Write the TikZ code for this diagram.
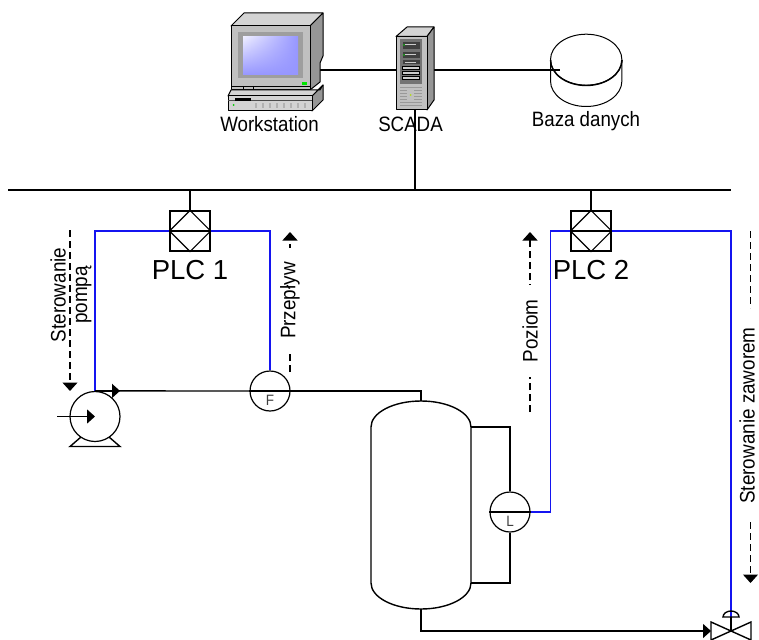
\documentclass[tikz,border=0pt]{standalone}
\usepackage{fontspec}
\setmainfont{Liberation Sans}
\newfontfamily\narrowfont[FakeStretch=0.9]{Liberation Sans}
\usetikzlibrary{calc,arrows.meta,shadings}

\definecolor{signalblue}{RGB}{20,20,240}
\definecolor{screenblue}{RGB}{150,150,255}
\definecolor{screenlight}{RGB}{238,238,255}
\definecolor{caselight}{RGB}{212,212,212}
\definecolor{casemid}{RGB}{192,192,192}
\definecolor{casedark}{RGB}{150,150,150}

\tikzset{
  pipe/.style={draw, line width=1.4pt},
  signal/.style={draw=signalblue, line width=1.5pt},
  icon/.style={draw=black, line width=1pt, line join=round},
  flowarrow/.style={line width=1.1pt, dash pattern=on 7pt off 4pt, -{Triangle[width=15pt,length=8.5pt]}},
  headtip/.style={-{Triangle[width=14pt,length=8pt]}},
  instrument/.style={circle, draw, fill=white, line width=1.2pt, minimum size=40pt, inner sep=0pt},
  plcbox/.style={rectangle, draw, fill=white, line width=1.2pt, minimum size=40pt, inner sep=0pt},
  plclabel/.style={font=\fontsize{27.5}{30}\selectfont, anchor=base},
  iconlabel/.style={font=\narrowfont\fontsize{20.8}{23}\selectfont, anchor=base},
  flowlabel/.style={font=\narrowfont\fontsize{21}{21.5}\selectfont, rotate=90, fill=white, inner xsep=14pt, inner ysep=0pt, align=center},
  tagletter/.style={font=\narrowfont\fontsize{15}{17}\selectfont, text=black!75}
}

\begin{document}
\begin{tikzpicture}[x=1pt,y=-1pt]

\useasboundingbox (0,0) rectangle (759,639);

% Define coordinates
\coordinate (busleft) at (8,190);
\coordinate (busright) at (731,190);
\coordinate (wsport) at (310,70);
\coordinate (scadaleft) at (396,70);
\coordinate (scadaright) at (430,70);
\coordinate (scadabottom) at (415,110);
\coordinate (dbport) at (560,70);
\coordinate (tanktop) at (421,401);
\coordinate (tankbottom) at (421,609);
\coordinate (tankupper) at (471,427);
\coordinate (tanklower) at (471,583);
\coordinate (valve) at (731,631);
\coordinate (actuator) at (731,617);
\coordinate (pumpin) at (57,416.5);

% PLC and instrument nodes
\node[plcbox] (plcone) at (190,231) {};
\node[plcbox] (plctwo) at (591,231) {};
\node[instrument] (flow) at (270,391) {};
\node[instrument] (level) at (510,512) {};
\node[circle, draw, line width=1.2pt, minimum size=50pt, inner sep=0pt] (pump) at (95,416.5) {};
\node[plclabel] (plconelabel) at (190,279) {PLC 1};
\node[plclabel] (plctwolabel) at (591,279) {PLC 2};
\node[tagletter] (flowtag) at (270,400.5) {F};
\node[tagletter] (leveltag) at (510,521) {L};

% Diamonds inside PLC boxes
\foreach \plc in {plcone,plctwo} {
  \draw[line width=1.2pt] (\plc.west) -- (\plc.north) -- (\plc.east) -- (\plc.south) -- cycle;
  \draw[line width=1.7pt] (\plc.west) -- (\plc.east);
}

% Bus and its drops
\draw[line width=1.8pt] (busleft) -- (busright);
\draw[pipe] (scadabottom) -- (scadabottom |- busleft);
\draw[pipe] (plcone.north) -- (plcone.north |- busleft);
\draw[pipe] (plctwo.north) -- (plctwo.north |- busleft);

% Links at the top
\draw[pipe] (wsport) -- (scadaleft);
\draw[pipe] (scadaright) -- (dbport);

% Signal lines
\draw[signal] (plcone.west) -| (pump.north);
\draw[signal] (plcone.east) -| (flow.north);
\draw[signal] (plctwo.west) -- (550.5,231) -- (550.5,512) -- (level.east);
\draw[signal] (plctwo.east) -| (actuator);

% Process pipes
\draw[pipe] (pump.north) -- (flow.west);
\draw[line width=1.7pt] (flow.west) -- (flow.east);
\draw[pipe] (flow.east) -| (tanktop);
\draw[line width=1.7pt] (level.west) -- (level.east);
\draw[pipe] (tankupper) -| (level.north);
\draw[pipe] (tanklower) -| (level.south);
\draw[pipe] (tankbottom) |- ($(valve)+(-21,0)$);

% Arrow heads on pipes
\draw[pipe, headtip] (pump.north) -- ($(pump.north)+(25,0)$);
\draw[pipe, headtip] (pumpin) -- (pump.center);
\draw[pipe, headtip] ($(valve)+(-40,0)$) -- ($(valve)+(-20,0)$);

% Tank
\draw[pipe] (371,427) arc[start angle=180, end angle=360, x radius=50, y radius=26]
  -- (tanklower) arc[start angle=0, end angle=-180, x radius=50, y radius=-26] -- cycle;

% Pump feet
\draw[pipe] (81,437) -- (70,446.5) -- (120,446.5) -- (109,437);

% Valve
\draw[pipe] (valve) -- ++(-20,-9) -- ++(0,18) -- (valve) -- ++(20,-9) -- ++(0,18) -- cycle;
\draw[pipe] (valve) -- (actuator);
\draw[pipe] (723,617) arc[start angle=180, end angle=360, x radius=8, y radius=6] -- cycle;

% Dashed signal directions
\draw[flowarrow] (70,230) -- (70,391);
\draw[flowarrow] (290,372) -- node[flowlabel, pos=0.51] (flowname) {Przepływ} (290,232);
\draw[flowarrow] (530,412) -- node[flowlabel, pos=0.45] (levelname) {Poziom} (530,232);
\draw[flowarrow, -] (750.5,231) -- (750.5,308);
\draw[flowarrow] (750.5,522) -- (750.5,583);
\node[flowlabel, inner xsep=0pt] (valvename) at (747,415.5) {Sterowanie zaworem};
\node[flowlabel, fill=none, inner xsep=0pt] (pumpname) at (71,295) {Sterowanie\\pompą};

% Workstation
\filldraw[icon, fill=caselight] (231,26) -- (244,13) -- (323,13) -- (310,26) -- cycle;
\filldraw[icon, fill=casedark] (310,26) -- (323,13) -- (323,56) -- (320,63) -- (320,82) -- (310,90) -- cycle;
\filldraw[icon, fill=casemid] (231,26) rectangle (310,90);
\fill[black!38] (238,32) rectangle (303,78);
\shade[upper left=screenlight, upper right=screenblue, lower left=screenblue, lower right=screenblue] (243,37) rectangle (298,75);
\fill[green!90!black] (302,82) rectangle (307,85);
\draw[line width=0.7pt] (231,86) -- (310,86) (243,86) -- (243,90) (253,86) -- (253,90);
\filldraw[icon, fill=casedark] (312,96) -- (323,85) -- (323,100) -- (312,111) -- cycle;
\filldraw[icon, fill=caselight] (228,96) -- (231,90) -- (320,90) -- (323,85) -- (312,96) -- cycle;
\filldraw[icon, fill=casemid!70!white] (228,96) rectangle (312,111);
\draw[line width=0.8pt, black!70] (228,100.5) -- (312,100.5);
\fill[black] (235,98) rectangle (251,101.5);
\fill[green!80!black] (233.5,105) circle[radius=1pt];
\foreach \xpos in {255,262,...,309} {
  \fill[black!30] (\xpos,103) rectangle ++(2,5);
}
\node[iconlabel] (wslabel) at (269.5,131.5) {Workstation};

% SCADA server
\filldraw[icon, fill=caselight] (396,36.5) -- (407,27) -- (434,27) -- (427,36.5) -- cycle;
\filldraw[icon, fill=casedark] (427,36.5) -- (434,27) -- (434,100) -- (427,110) -- cycle;
\filldraw[icon, fill=casemid] (396,36.5) rectangle (427,110);
\fill[black!55] (400,39) rectangle (422,84);
\foreach \ytop/\ybot in {42/49,52/58,60/64} {
  \fill[black!75] (402.5,\ytop) rectangle (419.5,\ybot);
  \fill[white!80!black] (405,\ytop+2) rectangle (416,\ytop+3);
}
\foreach \ytop in {66,71,76} {
  \filldraw[casemid!80!white, draw=black, line width=0.5pt] (402.5,\ytop) rectangle (419.5,\ytop+3.5);
}
\fill[green!80!black] (404,45) circle[radius=0.9pt] (404,55) circle[radius=0.9pt];
\foreach \ypos in {87,90,...,105} {
  \draw[black!40, line width=0.9pt] (400,\ypos) -- (422,\ypos);
}
\fill[casemid] (407,88) rectangle (414,100);
\fill[yellow!70!green] (410.5,95) circle[radius=1pt];
\node[iconlabel] (scadalabel) at (410.5,131.5) {SCADA};

% Database
\draw[line width=1pt] (550.5,60) -- (550.5,81) arc[start angle=180, end angle=0, x radius=35.7, y radius=25.5] -- (622,60);
\draw[line width=1pt] (586.2,59.7) ellipse[x radius=35.7, y radius=25.5];
\draw[line width=1.4pt] (550.5,60) arc[start angle=180, end angle=0, x radius=35.7, y radius=25.5];
\node[iconlabel] (dblabel) at (586,127) {Baza danych};

\end{tikzpicture}
\end{document}
